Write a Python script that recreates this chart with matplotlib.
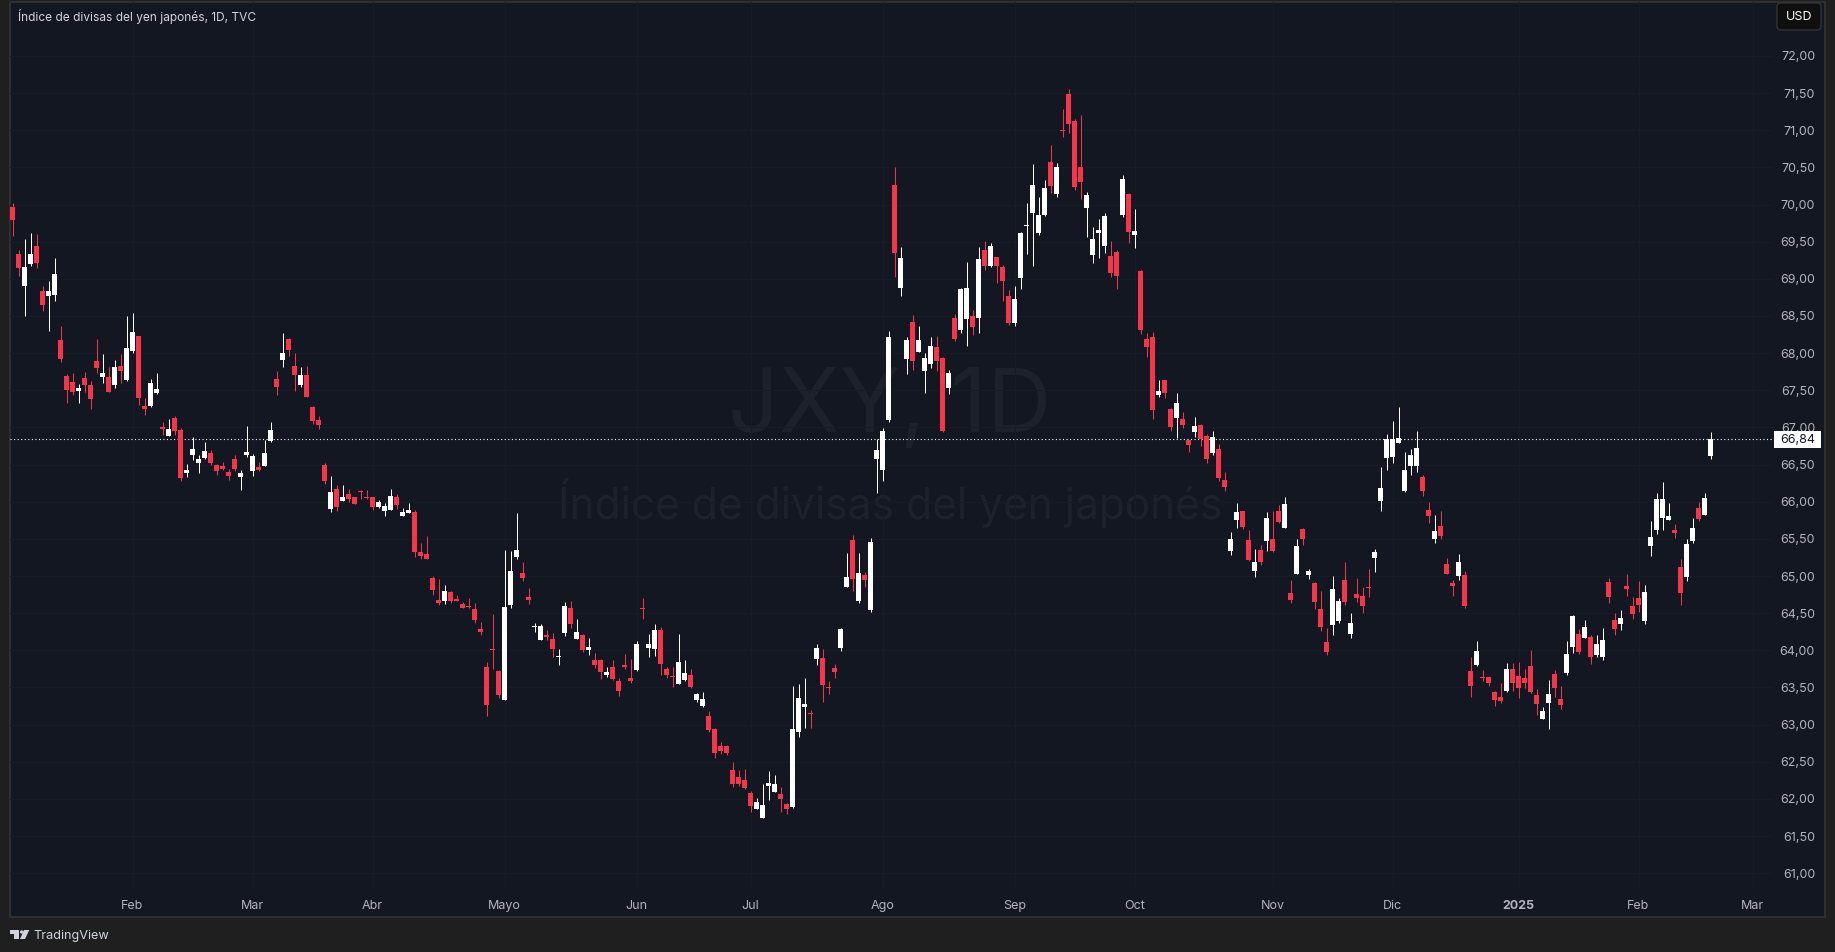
import numpy as np
import matplotlib
matplotlib.use("Agg")
import matplotlib.pyplot as plt
from matplotlib.patches import Rectangle, FancyBboxPatch, Polygon, Circle
from matplotlib.transforms import ScaledTranslation

# JXY daily candles
opens = [69.97,69.33,68.90,69.20,69.44,68.84,68.77,68.78,68.18,67.69,
67.61,67.49,67.67,67.57,67.89,67.68,67.68,67.57,67.83,67.64,
68.03,68.23,67.29,67.29,67.46,67.01,66.89,67.13,66.97,66.39,
66.63,66.52,66.59,66.66,66.49,66.48,66.40,66.58,66.33,66.63,
66.41,66.47,66.48,66.82,67.65,67.91,68.19,67.83,67.57,67.71,
67.28,67.10,66.49,65.90,66.17,66.01,66.10,66.06,66.14,66.06,
66.06,65.93,65.88,65.89,66.06,65.81,65.85,65.86,65.32,65.30,
64.97,64.68,64.66,64.79,64.69,64.62,64.60,64.56,64.29,63.77,
64.02,63.72,63.33,64.61,65.26,65.04,64.72,64.31,64.14,64.21,
64.15,63.91,64.23,64.57,64.15,64.21,64.00,63.87,63.87,63.67,
63.78,63.59,63.80,63.63,63.74,64.57,64.03,64.02,64.27,63.75,
63.66,63.55,63.60,63.67,63.33,63.25,63.12,62.94,62.71,62.71,
62.39,62.30,62.26,62.08,61.87,61.74,62.17,62.09,62.07,61.93,
61.89,62.90,63.24,63.16,63.88,63.90,63.51,63.76,64.03,64.85,
65.49,64.66,65.01,64.54,66.58,66.43,67.10,70.26,68.88,67.92,
68.42,68.02,67.76,67.85,68.08,67.93,67.53,68.47,68.31,68.46,
68.50,68.47,69.39,69.17,69.29,69.16,68.77,68.40,69.01,69.71,
69.89,69.62,69.86,70.57,70.14,71.00,71.49,71.12,70.50,69.95,
69.32,69.62,69.44,69.31,69.36,69.86,70.14,69.59,69.10,68.19,
68.22,67.44,67.64,67.25,67.13,67.11,66.83,66.94,67.03,66.88,
66.66,66.71,66.29,65.34,65.75,65.87,65.48,65.07,65.35,65.47,
65.50,65.87,65.65,64.77,65.03,65.63,65.01,64.91,64.56,64.11,
64.34,64.39,64.95,64.22,64.76,64.73,64.85,65.24,66.01,66.59,
66.60,66.79,66.14,66.48,66.48,66.33,65.89,65.50,65.67,65.16,
64.91,65.00,65.01,63.72,63.80,63.64,63.64,63.44,63.37,63.45,
63.75,63.66,63.63,63.79,63.40,63.08,63.29,63.68,63.35,63.70,
64.05,64.22,64.17,64.18,63.94,63.91,64.92,64.41,64.36,64.87,
64.60,64.70,64.40,65.40,65.62,65.78,65.75,65.62,65.12,64.99,
65.47,65.92,65.82,66.62]

highs = [70.02,69.39,69.54,69.62,69.60,68.90,68.97,69.28,68.37,67.72,
67.73,67.59,67.75,67.63,68.19,67.99,67.81,67.91,67.99,68.50,
68.54,68.23,67.40,67.65,67.73,67.07,67.11,67.15,66.99,66.51,
66.87,66.63,66.80,66.70,66.51,66.54,66.44,66.63,66.43,67.02,
66.64,66.54,66.83,67.07,67.76,68.27,68.20,68.00,67.81,67.83,
67.29,67.15,66.52,66.35,66.22,66.22,66.17,66.06,66.16,66.16,
66.06,66.02,65.98,66.17,66.10,65.92,65.98,65.89,65.44,65.54,
65.00,64.96,64.88,64.80,64.74,64.65,64.70,64.64,64.38,63.84,
64.49,63.74,65.35,65.34,65.85,65.19,64.84,64.37,64.35,64.27,
64.23,64.02,64.65,64.66,64.42,64.22,64.17,63.96,63.88,63.78,
63.87,63.63,63.95,63.88,64.13,64.70,64.22,64.35,64.31,63.78,
63.78,64.22,63.87,63.75,63.43,63.44,63.18,62.96,62.77,62.73,
62.50,62.39,62.40,62.11,62.01,62.20,62.38,62.32,62.16,61.95,
63.52,63.55,63.63,63.20,64.09,64.02,63.59,63.82,64.30,65.31,
65.55,65.31,65.05,65.51,66.84,66.99,68.30,70.51,69.43,68.22,
68.51,68.36,68.00,68.22,68.23,67.95,67.77,68.53,68.88,69.23,
68.58,69.43,69.51,69.48,69.29,69.19,68.85,68.90,69.63,70.02,
70.55,70.10,70.33,70.80,70.56,71.29,71.55,71.15,71.20,70.17,
69.70,69.80,69.89,69.51,69.39,70.40,70.16,69.94,69.12,68.27,
68.28,67.64,67.64,67.26,67.46,67.21,66.83,67.14,67.05,66.91,
66.95,66.78,66.40,65.59,65.98,65.87,65.62,65.36,65.42,65.86,
65.87,65.96,66.06,64.95,65.50,65.65,65.09,64.92,64.80,64.30,
65.00,64.70,65.19,64.50,64.97,64.85,65.09,65.36,66.47,66.91,
67.09,67.27,66.67,66.71,66.95,66.36,66.00,65.82,65.87,65.24,
64.95,65.30,65.07,63.91,64.13,63.74,63.66,63.45,63.56,63.83,
63.83,63.84,63.75,64.00,63.48,63.24,63.60,63.74,63.52,64.13,
64.48,64.29,64.41,64.21,64.21,64.30,64.97,64.50,64.54,65.03,
64.72,64.93,64.88,65.74,66.12,66.27,65.98,65.70,65.23,65.50,
65.78,66.00,66.12,66.94]

lows = [69.58,69.04,68.50,69.17,69.15,68.57,68.30,68.70,67.88,67.33,
67.44,67.33,67.48,67.25,67.73,67.60,67.48,67.53,67.60,67.63,
68.00,67.30,67.17,67.28,67.45,66.90,66.89,66.90,66.28,66.33,
66.56,66.39,66.58,66.49,66.36,66.43,66.29,66.41,66.16,66.60,
66.35,66.41,66.48,66.80,67.44,67.81,67.96,67.49,67.54,67.41,
67.05,66.98,66.24,65.86,65.88,66.01,65.99,65.97,66.04,66.04,
65.89,65.92,65.81,65.89,65.90,65.81,65.85,65.26,65.23,65.23,
64.74,64.61,64.62,64.64,64.66,64.57,64.57,64.37,64.21,63.12,
63.75,63.36,63.33,64.57,65.23,64.93,64.62,64.25,64.14,64.14,
63.91,63.80,64.19,64.30,64.15,63.98,63.94,63.76,63.61,63.64,
63.60,63.39,63.75,63.56,63.72,64.42,63.91,63.92,63.67,63.63,
63.51,63.55,63.59,63.49,63.31,63.24,62.90,62.55,62.61,62.59,
62.16,62.17,62.14,61.83,61.87,61.74,61.99,62.09,61.83,61.80,
61.88,62.83,62.96,62.96,63.80,63.30,63.41,63.63,63.99,64.85,
64.80,64.64,64.85,64.52,66.12,66.28,67.07,69.02,68.77,67.72,
67.77,68.02,67.46,67.80,67.76,66.94,67.45,68.16,68.27,68.10,
68.24,68.27,69.12,69.16,68.94,68.70,68.38,68.36,68.86,69.33,
69.17,69.59,69.85,70.15,70.10,70.91,70.96,70.20,70.07,69.56,
69.21,69.28,69.35,69.02,68.86,69.83,69.48,69.42,68.26,67.95,
67.11,67.41,67.40,66.95,66.86,66.99,66.67,66.87,66.75,66.52,
66.63,66.28,66.14,65.28,65.65,65.63,65.20,64.99,65.15,65.34,
65.32,65.71,65.65,64.64,65.03,65.42,64.96,64.56,64.26,63.94,
64.21,64.37,64.61,64.17,64.65,64.50,64.72,65.05,65.87,66.43,
66.52,66.79,66.13,66.36,66.40,66.08,65.71,65.44,65.50,65.03,
64.73,64.95,64.57,63.37,63.79,63.59,63.52,63.25,63.29,63.44,
63.45,63.36,63.49,63.43,63.13,63.08,62.94,63.37,63.21,63.67,
63.96,63.95,64.17,63.82,63.91,63.87,64.64,64.21,64.27,64.73,
64.42,64.52,64.35,65.27,65.57,65.62,65.75,65.51,64.61,64.93,
65.45,65.74,65.82,66.58]

closes = [69.79,69.15,69.16,69.33,69.21,68.65,68.84,69.07,67.92,67.50,
67.48,67.53,67.57,67.38,67.80,67.73,67.48,67.81,67.76,68.07,
68.29,67.40,67.25,67.60,67.52,66.98,66.98,66.95,66.32,66.43,
66.71,66.58,66.68,66.52,66.41,66.44,66.35,66.44,66.39,66.67,
66.62,66.43,66.66,66.97,67.54,68.00,68.04,67.71,67.71,67.41,
67.09,67.03,66.28,66.13,65.93,66.06,66.04,65.97,66.13,66.05,
65.93,65.99,65.94,66.08,65.96,65.86,65.89,65.32,65.27,65.23,
64.81,64.64,64.80,64.66,64.67,64.57,64.58,64.41,64.25,63.26,
64.00,63.40,64.58,65.07,65.35,64.97,64.68,64.33,64.33,64.18,
64.02,63.92,64.60,64.35,64.25,64.00,64.05,63.80,63.71,63.71,
63.61,63.45,63.78,63.59,64.09,64.56,64.09,64.27,63.82,63.67,
63.64,63.84,63.70,63.51,63.41,63.35,62.93,62.62,62.65,62.62,
62.20,62.20,62.15,61.91,61.96,61.92,62.22,62.20,62.00,61.87,
62.94,63.36,63.28,63.14,64.03,63.53,63.49,63.71,64.29,64.99,
64.96,65.04,64.95,65.46,66.70,66.95,68.22,69.35,69.28,68.18,
67.89,68.18,67.93,68.10,67.89,66.95,67.73,68.19,68.86,68.88,
68.35,69.27,69.17,69.44,69.17,68.97,68.40,68.73,69.62,69.72,
70.26,69.86,70.22,70.25,70.50,70.99,71.08,70.24,70.30,70.13,
69.54,69.66,69.85,69.08,69.04,70.34,69.63,69.64,68.31,68.08,
67.24,67.49,67.46,67.01,67.33,67.03,66.76,67.02,66.84,66.57,
66.87,66.32,66.20,65.50,65.86,65.66,65.22,65.19,65.19,65.78,
65.34,65.73,65.97,64.68,65.40,65.50,65.07,64.65,64.31,63.98,
64.83,64.66,64.65,64.37,64.70,64.60,64.84,65.32,66.18,66.84,
66.84,66.86,66.43,66.63,66.72,66.14,65.81,65.61,65.54,65.03,
64.87,65.19,64.60,63.52,63.99,63.63,63.56,63.33,63.32,63.75,
63.56,63.49,63.56,63.44,63.28,63.18,63.41,63.49,63.27,63.95,
64.46,63.98,64.31,63.91,64.09,64.14,64.72,64.29,64.44,64.83,
64.49,64.61,64.79,65.53,66.04,66.04,65.81,65.58,64.77,65.43,
65.65,65.77,66.05,66.84]

month_pos = [20, 40, 60, 82, 104, 123, 145, 167, 187, 210, 230, 251, 271, 290]
month_labels = ["Feb", "Mar", "Abr", "Mayo", "Jun", "Jul", "Ago", "Sep", "Oct", "Nov", "Dic", "2025", "Feb", "Mar"]
price_ticks = [61, 61.5, 62, 62.5, 63, 63.5, 64, 64.5, 65, 65.5, 66, 66.5, 67, 67.5,
               68, 68.5, 69, 69.5, 70, 70.5, 71, 71.5, 72]

W, H = 1835, 953
RED = "#f53549"
UP = "#ffffff"
BG = "#131722"
GRID = "#171b26"
LABEL = "#b2b5be"
plt.rcParams["font.family"] = ["Inter", "DejaVu Sans"]

def px(x):
    return x / W

def py(y):
    return 1 - y / H

def size(p):  # pixels to points
    return p * 0.72

fig = plt.figure(figsize=(W / 100, H / 100), dpi=100, facecolor="#1f1f1f")
ax = fig.add_axes([px(10), py(888), px(1772 - 10), (888 - 3) / H], facecolor="none")

# pane behind chart and price scale
fig.add_artist(Rectangle((px(9.5), py(917.5)), px(1815), 914.5 / H, transform=fig.transFigure,
                         facecolor=BG, edgecolor="#303030", lw=1.4, zorder=-5))

opens = np.array(opens)
highs = np.array(highs)
lows = np.array(lows)
closes = np.array(closes)
x = np.arange(len(opens))
colors = np.where(closes >= opens, UP, RED)

ax.set_axisbelow(True)
ax.vlines(x, lows, highs, colors=colors, lw=0.72, zorder=3)
ax.bar(x, np.abs(closes - opens), bottom=np.minimum(opens, closes), width=5 / 6, color=colors, lw=0, zorder=4)

ax.set_xlim(-2.5 / 6, (1772 - 12.5) / 6)
ax.set_ylim(66.84 - (888 - 440.3) / 74.3, 66.84 + (440.3 - 3) / 74.3)

ax.set_xticks(month_pos)
ax.set_xticklabels(month_labels)
ax.set_yticks(price_ticks)
ax.set_yticklabels([f"{t:.2f}".replace(".", ",") for t in price_ticks])
ax.yaxis.tick_right()
ax.tick_params(axis="x", length=0, pad=9, labelsize=size(12.5), labelcolor=LABEL)
ax.tick_params(axis="y", length=0, pad=size(43), labelsize=size(12.5), labelcolor=LABEL)
up_1px = ScaledTranslation(0, 1 / 100, fig.dpi_scale_trans)
for lab in ax.get_yticklabels():
    lab.set_horizontalalignment("right")
    lab.set_transform(lab.get_transform() + up_1px)
for lab in ax.get_xticklabels():
    if lab.get_text() == "2025":
        lab.set_fontweight("bold")
ax.grid(True, color=GRID, lw=0.72)
for s in ax.spines.values():
    s.set_visible(False)

# last price line and label
ax.axhline(closes[-1], color="#ffffff", lw=0.8, linestyle=(0, (1, 2.2)), zorder=2)
ax.add_patch(Rectangle((px(1774), py(449)), px(47), 17 / H, transform=fig.transFigure,
                       facecolor="#ffffff", edgecolor="none", clip_on=False, zorder=6))
ax.text(px(1797.5), py(440.5), f"{closes[-1]:.2f}".replace(".", ","), transform=fig.transFigure,
        color="#131722", fontsize=size(12.5), ha="center", va="center", zorder=7, clip_on=False)

# watermark
ax.text(px(890), py(409), "JXY, 1D", transform=fig.transFigure, color="#1d212c", fontsize=size(89),
        ha="center", va="center", zorder=0)
ax.text(px(890), py(503), "Índice de divisas del yen japonés", transform=fig.transFigure, color="#1d212c",
        fontsize=size(42.5), ha="center", va="center", zorder=0)

# title
ax.text(px(18), py(16.5), "Índice de divisas del yen japonés, 1D, TVC", transform=fig.transFigure,
        color="#d1d4dc", fontsize=size(11.9), ha="left", va="center", zorder=7)

# USD button
ax.add_patch(FancyBboxPatch((1781, H - 27), 36, 19, boxstyle="round,pad=4,rounding_size=4", transform=None,
                            facecolor="#0f0f0f", edgecolor="#3a3a3a", lw=0.8, clip_on=False, zorder=6))
ax.text(px(1799), py(17.5), "USD", transform=fig.transFigure, color="#ffffff", fontsize=size(12.5),
        ha="center", va="center", zorder=7, clip_on=False)

# TradingView logo
logo = "#d1d4dc"
fig.add_artist(Polygon([(px(10), py(931)), (px(19.3), py(931)), (px(19.3), py(940)), (px(14.3), py(940)),
                        (px(14.3), py(934.5)), (px(10), py(934.5))], transform=fig.transFigure, fc=logo, lw=0))
fig.add_artist(Circle((21.7, H - 933), 1.7, transform=None, fc=logo, lw=0))
fig.add_artist(Polygon([(px(24), py(931)), (px(29.3), py(931)), (px(25), py(940)), (px(20), py(940))],
                       transform=fig.transFigure, fc=logo, lw=0))
fig.text(px(33.5), py(936.5), "TradingView", color="#d1d4dc", fontsize=size(12.7), ha="left", va="center")

fig.savefig("out.png", dpi=100, facecolor=fig.get_facecolor())
